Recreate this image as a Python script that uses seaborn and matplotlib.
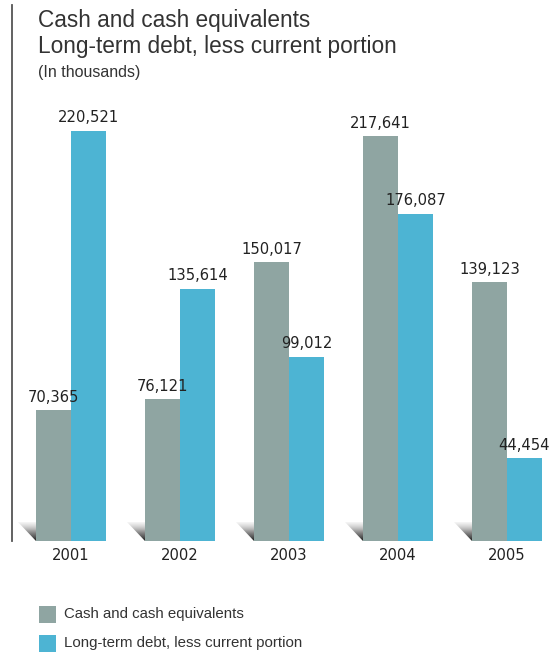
import matplotlib
matplotlib.use("Agg")
import matplotlib.pyplot as plt
import seaborn as sns
import pandas as pd
import numpy as np
from matplotlib.patches import Polygon

years = ["2001", "2002", "2003", "2004", "2005"]
cash = [70365, 76121, 150017, 217641, 139123]
debt = [220521, 135614, 99012, 176087, 44454]
series_names = ["Cash and cash equivalents", "Long-term debt, less current portion"]
colors = ["#8FA5A2", "#4DB4D3"]

df = pd.DataFrame({
    "year": years * 2,
    "value": cash + debt,
    "series": [series_names[0]] * len(years) + [series_names[1]] * len(years),
})

sns.set_theme(style="white")
plt.rcParams["font.family"] = ["Liberation Sans", "DejaVu Sans"]
narrow = dict(family="DejaVu Sans", fontstretch="condensed")

W, H = 560, 656
fig = plt.figure(figsize=(W / 100, H / 100), dpi=100)
ax = fig.add_axes([12 / W, 1 - 541 / H, 1 - 12 / W, (541 - 5) / H])

bw = 0.642
sns.barplot(data=df, x="year", y="value", hue="series", palette=colors,
            width=bw, dodge=True, saturation=1, ax=ax, legend=False,
            linewidth=0, errorbar=None)

ymax = 536 / 410 * 220521
xlim = ((12 - 71) / 109, (560 - 71) / 109)

for s in ["top", "right", "bottom"]:
    ax.spines[s].set_visible(False)
ax.spines["left"].set_color("#555555")
ax.spines["left"].set_linewidth(1.3)
ax.set_xticks([])
ax.set_yticks([])
ax.set_xlabel("")
ax.set_ylabel("")

# value labels
for cont in ax.containers:
    for bar in cont:
        h = bar.get_height()
        ax.annotate(f"{int(h):,}", (bar.get_x() + bar.get_width() / 2, h),
                    xytext=(0, 4), textcoords="offset points",
                    ha="center", va="bottom", fontsize=11.8,
                    color="#222222", **narrow)

# shadow triangles with gradient left of gray bars
px_x = 1 / 109
px_y = 220521 / 410
grad = np.linspace(0, 1, 64).reshape(-1, 1)
grad = np.tile(grad, (1, 64))
for bar in ax.containers[0]:
    x1 = bar.get_x()
    x0 = x1 - 18 * px_x
    y1 = 19 * px_y
    tri = Polygon([[x0, y1], [x1, y1], [x1, 0]], closed=True,
                  transform=ax.transData, facecolor="none", edgecolor="none")
    ax.add_patch(tri)
    im = ax.imshow(grad, cmap="Greys", extent=[x0, x1, 0, y1], origin="upper",
                   vmin=-0.1, vmax=1.1, aspect="auto", zorder=0.5)
    im.set_clip_path(tri)
ax.set_xlim(*xlim)
ax.set_ylim(0, ymax)

# year labels
for i, y in enumerate(years):
    ax.text(i, -15 * px_y, y, ha="center", va="center", fontsize=11.8,
            color="#222222", clip_on=False, **narrow)

# titles
fig.text(38 / W, 1 - 20 / H, "Cash and cash equivalents", ha="left", va="center",
         fontsize=16.3, color="#333333")
fig.text(38 / W, 1 - 47 / H, "Long-term debt, less current portion", ha="left",
         va="center", fontsize=16.3, color="#333333")
fig.text(38 / W, 1 - 73 / H, "(In thousands)", ha="left", va="center",
         fontsize=11.5, color="#333333")

# legend
for k, (name, c) in enumerate(zip(series_names, colors)):
    yc = 614 + 29 * k
    fig.patches.append(plt.Rectangle((39 / W, 1 - (yc + 8.5) / H), 17 / W, 17 / H,
                                     transform=fig.transFigure, facecolor=c,
                                     edgecolor="none"))
    fig.text(64 / W, 1 - yc / H, name, ha="left", va="center", fontsize=10.8,
             color="#333333")

fig.savefig("out.png", dpi=100)
